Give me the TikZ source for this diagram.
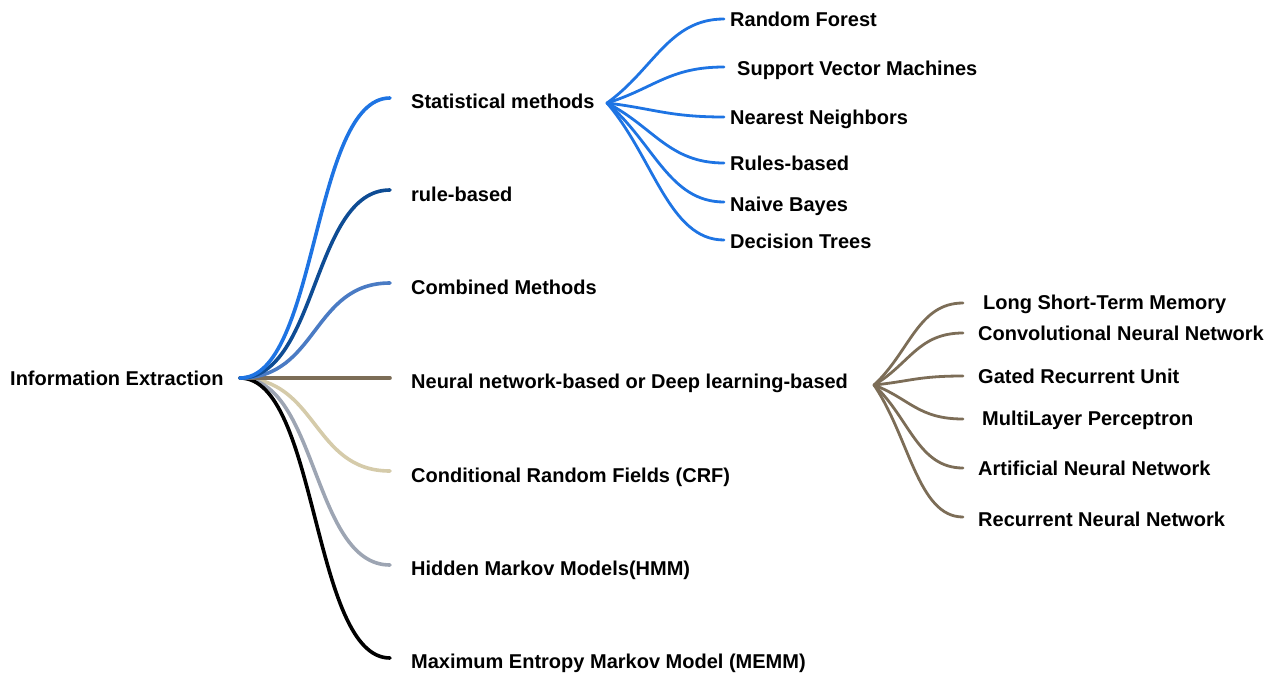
\documentclass[tikz,border=0pt]{standalone}
\usepackage{fontspec}
\setmainfont{Liberation Sans}
\usetikzlibrary{calc}
\definecolor{cStat}{HTML}{1E74E3}
\definecolor{cRule}{HTML}{0E4C94}
\definecolor{cComb}{HTML}{4A7BC4}
\definecolor{cNeur}{HTML}{7C6D57}
\definecolor{cCrf}{HTML}{D5CBAA}
\definecolor{cHmm}{HTML}{9DA5B3}
\definecolor{cMemm}{HTML}{000000}
\tikzset{
  lbl/.style={anchor=base west, inner sep=0pt, yshift=-7pt, font=\fontsize{20}{22}\selectfont\bfseries},
  main/.style={line width=3.6pt, line cap=round},
  sub/.style={line width=2.8pt, line cap=round},
}
\begin{document}
\begin{tikzpicture}[x=1pt,y=-1pt]
\useasboundingbox (0,0) rectangle (1278,675);
% root
\coordinate (r) at (240,378);
\node[lbl] (root) at (10,378) {Information Extraction};
% level 1 endpoints
\coordinate (e1) at (390,98);
\coordinate (e2) at (390,190);
\coordinate (e3) at (390,283);
\coordinate (e4) at (390,378);
\coordinate (e5) at (390,471);
\coordinate (e6) at (390,565);
\coordinate (e7) at (390,658);
\node[lbl] (n1) at (411,101) {Statistical methods};
\node[lbl] (n2) at (411,194) {rule-based};
\node[lbl] (n3) at (411,287) {Combined Methods};
\node[lbl] (n4) at (411,381) {Neural network-based or Deep learning-based};
\node[lbl] (n5) at (411,475) {Conditional Random Fields (CRF)};
\node[lbl] (n6) at (411,568) {Hidden Markov Models(HMM)};
\node[lbl] (n7) at (411,661) {Maximum Entropy Markov Model (MEMM)};
\draw[main,cCrf]  (r) .. controls (318,378) and (312,471) .. (e5);
\draw[main,cHmm]  (r) .. controls (318,378) and (312,565) .. (e6);
\draw[main,cMemm] (r) .. controls (318,378) and (312,658) .. (e7);
\draw[main,cNeur] (r) -- (e4);
\draw[main,cComb] (r) .. controls (318,378) and (312,283) .. (e3);
\draw[main,cRule] (r) .. controls (318,378) and (312,190) .. (e2);
\draw[main,cStat] (r) .. controls (318,378) and (312,98) .. (e1);
% statistical sub-branches
\coordinate (s) at (607,103);
\coordinate (s1) at (724,19);
\coordinate (s2) at (724,67);
\coordinate (s3) at (724,117);
\coordinate (s4) at (724,163);
\coordinate (s5) at (724,202);
\coordinate (s6) at (724,240);
\node[lbl] (t1) at (730,19) {Random Forest};
\node[lbl] (t2) at (737,68) {Support Vector Machines};
\node[lbl] (t3) at (730,117) {Nearest Neighbors};
\node[lbl] (t4) at (730,163) {Rules-based};
\node[lbl] (t5) at (730,204) {Naive Bayes};
\node[lbl] (t6) at (730,241) {Decision Trees};
\foreach \e in {s1,s2,s3,s4,s5,s6}{
  \draw[sub,cStat] (s) .. controls ($(s)!0.4!(\e)$) and ($(\e)+(-55,0)$) .. (\e);
}
% neural sub-branches
\coordinate (u) at (874,385);
\coordinate (u1) at (963,303);
\coordinate (u2) at (963,333);
\coordinate (u3) at (963,376);
\coordinate (u4) at (963,419);
\coordinate (u5) at (963,468);
\coordinate (u6) at (963,517);
\node[lbl] (v1) at (983,302) {Long Short-Term Memory};
\node[lbl] (v2) at (978,333) {Convolutional Neural Network};
\node[lbl] (v3) at (978,376) {Gated Recurrent Unit};
\node[lbl] (v4) at (982,418) {MultiLayer Perceptron};
\node[lbl] (v5) at (978,468) {Artificial Neural Network};
\node[lbl] (v6) at (978,519) {Recurrent Neural Network};
\foreach \e in {u1,u2,u3,u4,u5,u6}{
  \draw[sub,cNeur] (u) .. controls ($(u)!0.4!(\e)$) and ($(\e)+(-45,0)$) .. (\e);
}
\end{tikzpicture}
\end{document}
